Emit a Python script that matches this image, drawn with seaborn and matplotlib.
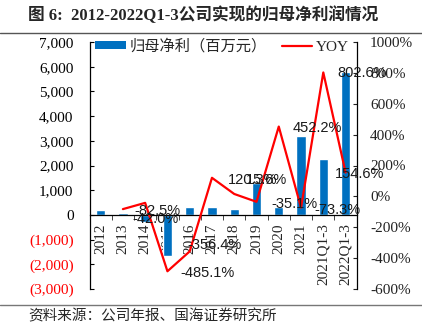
import numpy as np
import pandas as pd
import matplotlib
matplotlib.use("Agg")
import matplotlib.pyplot as plt
import seaborn as sns
from matplotlib.lines import Line2D
from matplotlib.patches import Patch
from matplotlib.ticker import FuncFormatter, MultipleLocator

# ---- data ----
categories = ["2012", "2013", "2014", "2015", "2016", "2017", "2018", "2019",
              "2020", "2021", "2021Q1-3", "2022Q1-3"]
net_profit = [190, 70, -300, -1670, 325, 340, 230, 1310, 340, 3200, 2260, 5800]
yoy = [np.nan, -82.5, -42.0, -485.1, -356.4, 120.3, 15.6, -35.1, 452.2, -73.3, 802.6, 154.6]
bar_label = "归母净利（百万元）"
line_label = "YOY"
title = "图 6:  2012-2022Q1-3公司实现的归母净利润情况"
source = "资料来源：公司年报、国海证券研究所"

# label offsets in pixels (style)
lab_dx = [0, 35, 10, 40, 25, 41, 32, 38, 39, 36, 39, 14]
lab_dy = [0, -2, -16, -2, 6, -2, 14, -2, -1, -2, -1, -1]

sns.set_style("white")
SERIF_CJK = ["Liberation Serif", "Noto Sans CJK SC"]

df = pd.DataFrame({"cat": categories, "profit": net_profit,
                   "pos": np.arange(len(categories)), "yoy": yoy})

fig = plt.figure(figsize=(4.22, 3.32), dpi=100)
ax = fig.add_axes([89.5 / 422, 1 - 289 / 332, (356.7 - 89.5) / 422, (289 - 42) / 332])

sns.barplot(data=df, x="cat", y="profit", color="#0070C0", saturation=1,
            width=0.42, ax=ax, zorder=2)
ax.set_xlim(-0.5, len(categories) - 0.5)
ax.set_ylim(-3000, 7000)
ax.yaxis.set_major_locator(MultipleLocator(1000))

def lfmt(v, p):
    v = int(round(v))
    if v < 0:
        return "({:,})".format(-v)
    return "{:,}".format(v)
ax.yaxis.set_major_formatter(FuncFormatter(lfmt))

ax.set_xlabel("")
ax.set_ylabel("")
for s in ["top", "right"]:
    ax.spines[s].set_visible(False)
ax.spines["bottom"].set_position(("data", 0))
ax.spines["bottom"].set_color("black")
ax.spines["left"].set_color("black")
ax.spines["left"].set_linewidth(0.9)
ax.spines["bottom"].set_linewidth(0.9)
ax.tick_params(axis="y", direction="in", length=3, pad=11.5, left=True,
               labelsize=11, colors="black")
ax.set_xticks(range(len(categories)))
ax.set_xticklabels(categories, rotation=90, fontfamily="Liberation Serif", fontsize=11)
ax.set_xticks(np.arange(-0.5, len(categories) + 0.5, 1), minor=True)
ax.tick_params(axis="x", which="major", length=0, pad=6)
ax.tick_params(axis="x", which="minor", length=3.5, direction="out", bottom=True)
for t in ax.get_yticklabels():
    t.set_fontfamily("Liberation Serif")
fig.canvas.draw()
for t, v in zip(ax.get_yticklabels(), ax.get_yticks()):
    t.set_color("red" if v < 0 else "black")

ax2 = ax.twinx()
sns.lineplot(data=df, x="pos", y="yoy", color="#FF0000", linewidth=1.6, ax=ax2, zorder=3)
ax2.set_ylim(-600, 1000)
ax2.set_xlim(-0.5, len(categories) - 0.5)
ax2.yaxis.set_major_locator(MultipleLocator(200))
ax2.yaxis.set_major_formatter(FuncFormatter(lambda v, p: "{:d}%".format(int(round(v)))))
ax2.set_xlabel("")
ax2.set_ylabel("")
for s in ["top", "left", "bottom"]:
    ax2.spines[s].set_visible(False)
ax2.spines["right"].set_color("black")
ax2.spines["right"].set_linewidth(0.9)
ax2.tick_params(axis="y", direction="in", length=3, pad=9.5, right=True,
                labelsize=11, colors="#222222")
for t in ax2.get_yticklabels():
    t.set_fontfamily("Liberation Serif")

for i, v in enumerate(yoy):
    if np.isnan(v):
        continue
    ax2.annotate("{:.1f}%".format(v), (i, v), xytext=(lab_dx[i], lab_dy[i]),
                 textcoords="offset pixels", ha="center", va="center",
                 fontsize=10.5, fontfamily="Liberation Sans", color="#1a1a1a",
                 annotation_clip=False, zorder=5)

handles = [Patch(facecolor="#0070C0", edgecolor="none"),
           Line2D([], [], color="#FF0000", linewidth=1.6)]
fig.legend(handles, [bar_label, line_label], loc="upper left",
           bbox_to_anchor=(95 / 422, 1 - 39 / 332), ncol=2, frameon=False,
           prop={"family": SERIF_CJK, "size": 11}, borderpad=0,
           borderaxespad=0, handlelength=2.0, handleheight=0.45,
           handletextpad=0.25, columnspacing=1.0)

fig.text(28 / 422, 1 - 15 / 332, title, fontsize=12, fontweight="bold",
         family=SERIF_CJK, ha="left", va="center")
fig.add_artist(Line2D([0, 1], [1 - 33 / 332] * 2, color="#555555", linewidth=1.0))
fig.add_artist(Line2D([0, 1], [1 - 305 / 332] * 2, color="#777777", linewidth=1.0))
fig.text(28 / 422, 1 - 316 / 332, source, fontsize=10.5, family=["Noto Sans CJK SC"],
         ha="left", va="center")

fig.savefig("out.png", dpi=100)
